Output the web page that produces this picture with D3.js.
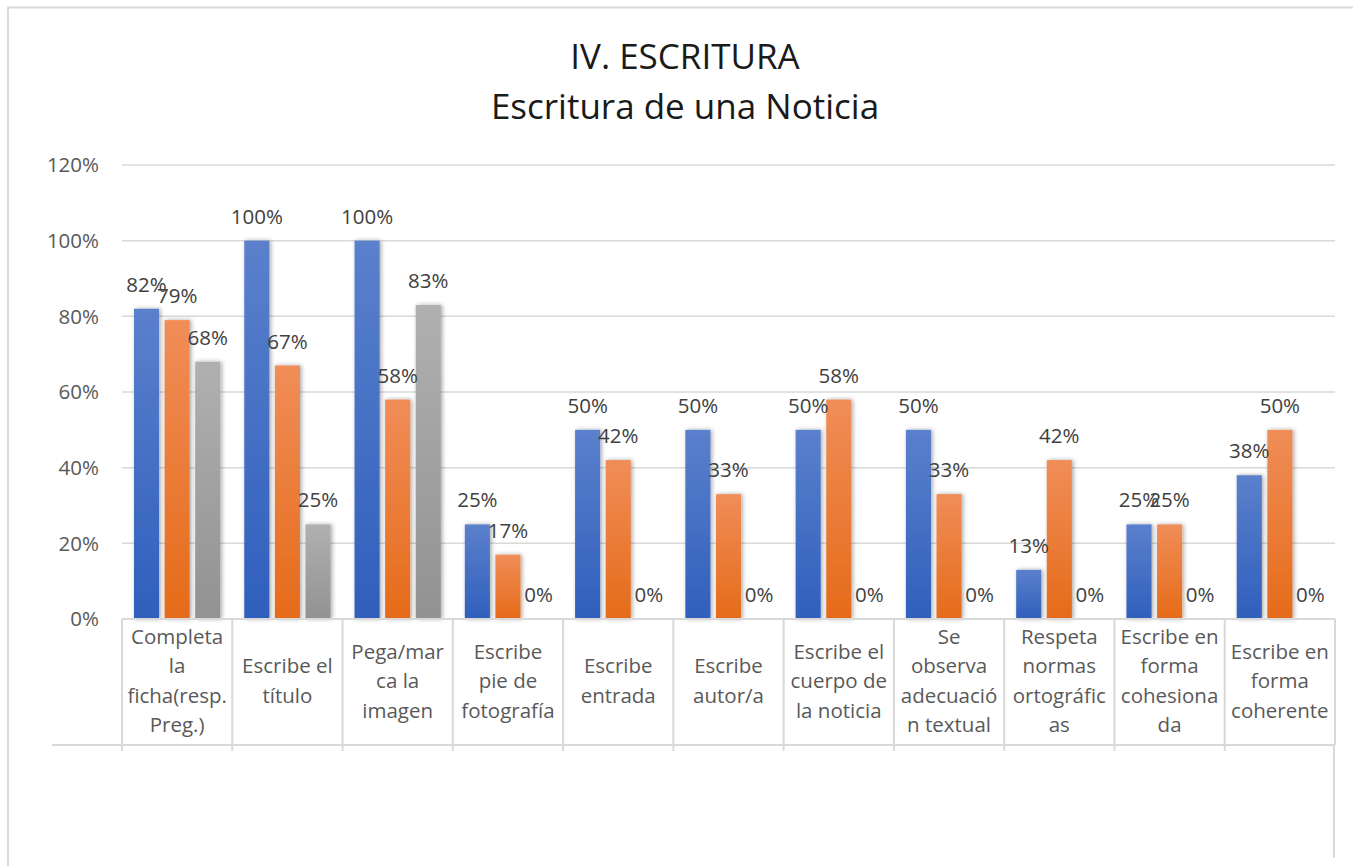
<!DOCTYPE html>
<html>
<head>
<meta charset="utf-8">
<script src="https://cdn.jsdelivr.net/npm/d3@7"></script>
<style>
  body { margin: 0; background: #fff; }
  svg { display: block; font-family: "Open Sans", "Noto Sans", sans-serif; }
</style>
</head>
<body>
<div id="chart"></div>
<script>
// chart data
const categories = [
  ["Completa", "la", "ficha(resp.", "Preg.)"],
  ["Escribe el", "título"],
  ["Pega/mar", "ca la", "imagen"],
  ["Escribe", "pie de", "fotografía"],
  ["Escribe", "entrada"],
  ["Escribe", "autor/a"],
  ["Escribe el", "cuerpo de", "la noticia"],
  ["Se", "observa", "adecuació", "n textual"],
  ["Respeta", "normas", "ortográfic", "as"],
  ["Escribe en", "forma", "cohesiona", "da"],
  ["Escribe en", "forma", "coherente"]
];
const serie1 = [82, 100, 100, 25, 50, 50, 50, 50, 13, 25, 38];
const serie2 = [79, 67, 58, 17, 42, 33, 58, 33, 42, 25, 50];
const serie3 = [68, 25, 83, 0, 0, 0, 0, 0, 0, 0, 0];
const yTicks = [0, 20, 40, 60, 80, 100, 120];
const titleLines = ["IV. ESCRITURA", "Escritura de una Noticia"];

const W = 1353, H = 866;
const margin = {top: 165, left: 122, right: 18, bottom: 247};
const width = W - margin.left - margin.right;
const height = H - margin.top - margin.bottom;

const svg = d3.select("#chart").append("svg")
  .attr("width", W)
  .attr("height", H);

const defs = svg.append("defs");
const grads = [
  {id: "g0", top: "#5b80cc", bottom: "#2f5fbc"},
  {id: "g1", top: "#f08d58", bottom: "#e56b19"},
  {id: "g2", top: "#b0b0b0", bottom: "#929292"}
];
grads.forEach(function (g) {
  const lg = defs.append("linearGradient").attr("id", g.id)
    .attr("x1", 0).attr("y1", 0).attr("x2", 0).attr("y2", 1);
  lg.append("stop").attr("offset", "0%").attr("stop-color", g.top);
  lg.append("stop").attr("offset", "100%").attr("stop-color", g.bottom);
});
defs.append("filter").attr("id", "shadow")
  .attr("x", "-30%").attr("y", "-10%").attr("width", "160%").attr("height", "120%")
  .append("feDropShadow")
  .attr("dx", 1.5).attr("dy", 0).attr("stdDeviation", 2)
  .attr("flood-color", "#000").attr("flood-opacity", 0.35);

// outer frame
svg.append("path")
  .attr("d", "M8,866 L8,7.5 L1353,7.5 M1334,745 L1334,858")
  .attr("fill", "none").attr("stroke", "#d9d9d9").attr("stroke-width", 2);

// title
svg.append("text")
  .attr("x", 685).attr("y", 69)
  .attr("text-anchor", "middle")
  .attr("font-size", 35).attr("fill", "#1a1a1a")
  .selectAll("tspan").data(titleLines).enter().append("tspan")
  .attr("x", 685).attr("dy", function (d, i) { return i === 0 ? 0 : 50; })
  .text(function (d) { return d; });

const g = svg.append("g")
  .attr("transform", "translate(" + margin.left + "," + margin.top + ")");

const x0 = d3.scaleBand()
  .domain(d3.range(categories.length))
  .range([0, width])
  .paddingInner(0).paddingOuter(0);

const x1 = d3.scaleBand()
  .domain([0, 1, 2])
  .range([12, x0.bandwidth() - 12])
  .paddingInner(0.18);

const y = d3.scaleLinear()
  .domain([0, 120])
  .range([height, 0]);

// gridlines
g.selectAll(".grid").data(yTicks.filter(function (d) { return d > 0; }))
  .enter().append("line")
  .attr("x1", 0).attr("x2", width)
  .attr("y1", function (d) { return y(d); })
  .attr("y2", function (d) { return y(d); })
  .attr("stroke", "#d9d9d9").attr("stroke-width", 1.5);

// y axis labels
g.selectAll(".ylab").data(yTicks).enter().append("text")
  .attr("x", -23)
  .attr("y", function (d) { return y(d); })
  .attr("dy", "0.35em")
  .attr("text-anchor", "end")
  .attr("font-size", 20.5).attr("fill", "#595959")
  .text(function (d) { return d + "%"; });

// bars
const series = [serie1, serie2, serie3];
const groups = g.selectAll(".cat").data(categories).enter().append("g")
  .attr("transform", function (d, i) { return "translate(" + x0(i) + ",0)"; });

groups.each(function (d, i) {
  const grp = d3.select(this);
  const vals = series.map(function (s, k) { return {k: k, v: s[i]}; });
  grp.selectAll("rect").data(vals.filter(function (e) { return e.v > 0; }))
    .enter().append("rect")
    .attr("x", function (e) { return x1(e.k); })
    .attr("width", x1.bandwidth())
    .attr("y", function (e) { return y(e.v); })
    .attr("height", function (e) { return height - y(e.v); })
    .attr("fill", function (e) { return "url(#g" + e.k + ")"; })
    .attr("filter", "url(#shadow)");
  grp.selectAll(".lab").data(vals).enter().append("text")
    .attr("x", function (e) { return x1(e.k) + x1.bandwidth() / 2; })
    .attr("y", function (e) { return y(e.v) - 17; })
    .attr("text-anchor", "middle")
    .attr("font-size", 20.5).attr("fill", "#404040")
    .text(function (e) { return e.v + "%"; });
});

// category axis box
const axisBottom = 126;
const sep = d3.range(categories.length + 1).map(function (i) {
  return i < categories.length ? x0(i) : width;
});
g.selectAll(".sep").data(sep).enter().append("line")
  .attr("x1", function (d) { return d; }).attr("x2", function (d) { return d; })
  .attr("y1", height).attr("y2", function (d, i) { return i === sep.length - 1 ? height + axisBottom : height + axisBottom + 6; })
  .attr("stroke", "#d9d9d9").attr("stroke-width", 2);
g.append("line")
  .attr("x1", 0).attr("x2", width)
  .attr("y1", height).attr("y2", height)
  .attr("stroke", "#d9d9d9").attr("stroke-width", 2);
g.append("line")
  .attr("x1", -70).attr("x2", width)
  .attr("y1", height + axisBottom).attr("y2", height + axisBottom)
  .attr("stroke", "#d9d9d9").attr("stroke-width", 2);

// category labels
const lineH = 29.5;
groups.append("text")
  .attr("text-anchor", "middle")
  .attr("font-size", 20.5).attr("fill", "#595959")
  .each(function (d) {
    const t = d3.select(this);
    const startY = height + 62 - (d.length - 1) * lineH / 2;
    d.forEach(function (line, j) {
      t.append("tspan")
        .attr("x", x0.bandwidth() / 2)
        .attr("y", startY + j * lineH)
        .attr("dy", "0.35em")
        .text(line);
    });
  });
</script>
</body>
</html>
